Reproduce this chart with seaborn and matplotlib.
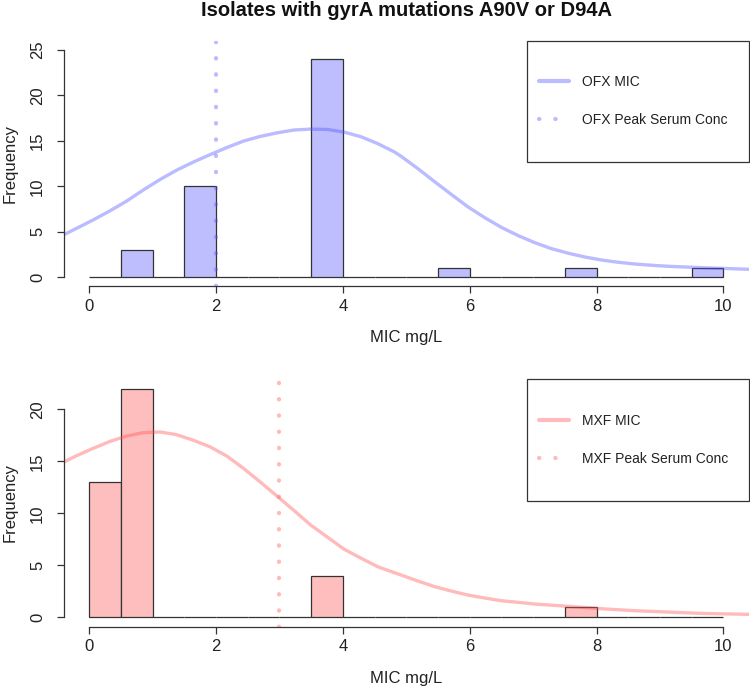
import numpy as np
import pandas as pd
import matplotlib
matplotlib.use("Agg")
import matplotlib.pyplot as plt
import matplotlib.patches as patches
import seaborn as sns

# histogram bins (0.5 wide, 0..10) and counts
bin_edges = list(np.arange(0, 10.5, 0.5))
ofx_mids = [0.75, 1.75, 3.75, 5.75, 7.75, 9.75]
ofx_counts = [3, 10, 24, 1, 1, 1]
mxf_mids = [0.25, 0.75, 3.75, 7.75]
mxf_counts = [13, 22, 4, 1]

# fitted curves
ofx_curve_x = [-0.41, -0.20, 0.06, 0.33, 0.59, 0.85, 1.12, 1.38, 1.65, 1.91, 2.18,
               2.44, 2.70, 2.97, 3.23, 3.49, 3.76, 4.02, 4.29, 4.55, 4.81, 4.92,
               5.18, 5.45, 5.71, 5.97, 6.24, 6.50, 6.77, 7.03, 7.29, 7.56, 7.82,
               8.08, 8.35, 8.61, 8.88, 9.14, 9.67, 10.41]
ofx_curve_y = [4.65, 5.38, 6.3, 7.32, 8.38, 9.59, 10.77, 11.79, 12.7, 13.5, 14.3,
               15.0, 15.5, 15.9, 16.2, 16.3, 16.26, 15.97, 15.45, 14.7, 13.8, 13.3,
               11.97, 10.5, 9.12, 7.76, 6.55, 5.49, 4.57, 3.8, 3.15, 2.64, 2.23,
               1.9, 1.65, 1.46, 1.32, 1.21, 1.06, 0.88]
mxf_curve_x = [-0.41, -0.20, 0.06, 0.33, 0.59, 0.85, 1.12, 1.38, 1.65, 1.91, 2.18,
               2.44, 2.70, 3.0, 3.23, 3.49, 3.76, 4.02, 4.29, 4.55, 4.81, 4.92,
               5.18, 5.45, 5.71, 5.97, 6.24, 6.50, 6.77, 7.03, 7.56, 8.08, 8.61,
               9.14, 9.67, 10.41]
mxf_curve_y = [14.9, 15.54, 16.24, 16.92, 17.43, 17.75, 17.82, 17.56, 17.01, 16.38, 15.47,
               14.29, 13.0, 11.46, 10.27, 8.89, 7.7, 6.55, 5.68, 4.87, 4.3, 4.07,
               3.5, 2.95, 2.53, 2.15, 1.86, 1.6, 1.44, 1.28, 1.06, 0.83, 0.64,
               0.51, 0.38, 0.29]

ofx_peak = 2
mxf_peak = 3

sns.set_theme(style="white")
plt.rcParams["font.family"] = ["Liberation Sans", "DejaVu Sans"]

fig = plt.figure(figsize=(7.5, 6.92), dpi=100)
ax_top = fig.add_axes([0.0851, 0.5861, 0.9132, 0.3548])
ax_bot = fig.add_axes([0.0851, 0.0946, 0.9132, 0.3572])

panels = [
    (ax_top, ofx_mids, ofx_counts, ofx_curve_x, ofx_curve_y, ofx_peak, "OFX",
     "#bebeff", "#5555ff", (-1, 26), [0, 5, 10, 15, 20, 25], 0.755),
    (ax_bot, mxf_mids, mxf_counts, mxf_curve_x, mxf_curve_y, mxf_peak, "MXF",
     "#ffbebe", "#ff5555", (-0.88, 22.88), [0, 5, 10, 15, 20], 0.756),
]

for ax, mids, counts, cx, cy, peak, drug, fill, line_col, ylim, yticks, leg_y in panels:
    hist_df = pd.DataFrame({"mic": mids, "n": counts})
    sns.histplot(data=hist_df, x="mic", weights="n", bins=bin_edges, ax=ax,
                 color=fill, alpha=1, edgecolor="#333333", linewidth=0.9)
    curve_df = pd.DataFrame({"x": cx, "y": cy})
    sns.lineplot(data=curve_df, x="x", y="y", ax=ax, color=line_col, alpha=0.4,
                 lw=2.4, sort=False, label=f"{drug} MIC")
    ax.axvline(peak, color=line_col, alpha=0.4, lw=3,
               linestyle=(0, (0.1, 3.8)), dash_capstyle="round",
               label=f"{drug} Peak Serum Conc")

    ax.set_xlim(-0.4, 10.4)
    ax.set_ylim(*ylim)
    ax.set_xticks([0, 2, 4, 6, 8, 10])
    ax.set_yticks(yticks)
    ax.set_yticklabels([str(t) for t in yticks], rotation=90, va="center")
    for side in ["top", "right"]:
        ax.spines[side].set_visible(False)
    ax.spines["left"].set_bounds(yticks[0], yticks[-1])
    ax.spines["bottom"].set_bounds(0, 10)
    for side in ["left", "bottom"]:
        ax.spines[side].set_color("#333333")
        ax.spines[side].set_linewidth(0.9)
    ax.tick_params(axis="both", length=5, width=0.9, color="#333333",
                   labelsize=12, labelcolor="#222222")
    ax.tick_params(axis="x", pad=4, bottom=True)
    ax.tick_params(axis="y", pad=8.5, left=True)

    ax.set_xlabel("MIC mg/L", fontsize=12, color="#222222")
    ax.set_ylabel("Frequency", fontsize=12, color="#222222")
    ax.xaxis.set_label_coords(0.5, -0.178)
    ax.yaxis.set_label_coords(-0.068, 0.5)

    leg = ax.legend(loc="center left", bbox_to_anchor=(0.683, leg_y), frameon=False,
                    borderpad=0, handlelength=2.2, handletextpad=0.94,
                    labelspacing=1.75, fontsize=10, labelcolor="#222222")
    leg.get_lines()[0].set_linewidth(3)
    ax.add_patch(patches.Rectangle((0.676, 0.507), 0.324, 0.493,
                                   transform=ax.transAxes, fill=False,
                                   ec="#333333", lw=0.9, clip_on=False))

fig.text(0.5415, 0.9855, "Isolates with gyrA mutations A90V or D94A",
         ha="center", va="center", fontsize=14.5, fontweight="bold",
         color="#111111")

fig.savefig("out.png", dpi=100)
